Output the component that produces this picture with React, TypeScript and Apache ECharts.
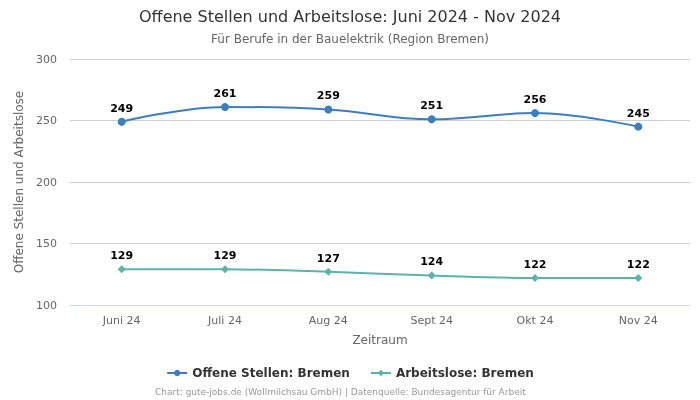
import React, { useEffect, useRef } from "react";
import * as echarts from "echarts";

const categories = ["Juni 24", "Juli 24", "Aug 24", "Sept 24", "Okt 24", "Nov 24"];
const offeneStellen = [249, 261, 259, 251, 256, 245];
const arbeitslose = [129, 129, 127, 124, 122, 122];

const FONT = "DejaVu Sans";

export default function App() {
  const ref = useRef<HTMLDivElement>(null);
  useEffect(() => {
    const chart = echarts.init(ref.current!, null, { renderer: "svg" });
    chart.setOption({
      animation: false,
      textStyle: { fontFamily: FONT },
      title: {
        text: "Offene Stellen und Arbeitslose: Juni 2024 - Nov 2024",
        subtext: "Für Berufe in der Bauelektrik (Region Bremen)",
        left: "center",
        top: 3,
        itemGap: 9,
        textStyle: { fontFamily: FONT, fontSize: 16, fontWeight: "normal", color: "#333333" },
        subtextStyle: { fontFamily: FONT, fontSize: 12, color: "#666666" },
      },
      legend: {
        bottom: 16,
        left: "center",
        itemWidth: 20,
        itemHeight: 8,
        itemGap: 20,
        textStyle: { fontFamily: FONT, fontSize: 12, fontWeight: "bold", color: "#333333" },
        data: ["Offene Stellen: Bremen", "Arbeitslose: Bremen"],
      },
      graphic: [
        {
          type: "text",
          left: 155,
          top: 387,
          style: {
            text: "Chart: gute-jobs.de (Wollmilchsau GmbH) | Datenquelle: Bundesagentur für Arbeit",
            fontFamily: FONT,
            fontSize: 9,
            fill: "#999999",
          },
        },
      ],
      grid: { left: 70, right: 10, top: 59, bottom: 95 },
      xAxis: {
        type: "category",
        data: categories,
        boundaryGap: true,
        name: "Zeitraum",
        nameLocation: "middle",
        nameGap: 29,
        nameTextStyle: { fontFamily: FONT, fontSize: 12, color: "#666666" },
        axisLine: { lineStyle: { color: "#ccd6eb" } },
        axisTick: { show: false },
        axisLabel: { fontFamily: FONT, fontSize: 11, color: "#666666", margin: 10 },
      },
      yAxis: {
        type: "value",
        min: 100,
        max: 300,
        interval: 50,
        name: "Offene Stellen und Arbeitslose",
        nameLocation: "middle",
        nameGap: 33,
        nameTextStyle: { fontFamily: FONT, fontSize: 12, color: "#666666" },
        axisLabel: { fontFamily: FONT, fontSize: 11, color: "#666666", margin: 13 },
        splitLine: { lineStyle: { color: "#d0d0d0" } },
        axisLine: { show: false },
        axisTick: { show: false },
      },
      series: [
        {
          name: "Offene Stellen: Bremen",
          type: "line",
          data: offeneStellen,
          smooth: 0.4,
          symbol: "circle",
          symbolSize: 8,
          color: "#3a7fc1",
          lineStyle: { width: 2, color: "#3a7fc1" },
          itemStyle: { color: "#3a7fc1" },
          label: {
            show: true,
            position: "top",
            distance: 4,
            fontFamily: FONT,
            fontSize: 11,
            fontWeight: "bold",
            color: "#000000",
          },
        },
        {
          name: "Arbeitslose: Bremen",
          type: "line",
          data: arbeitslose,
          smooth: 0.4,
          symbol: "diamond",
          symbolSize: 8,
          color: "#5ab4ac",
          lineStyle: { width: 2, color: "#5ab4ac" },
          itemStyle: { color: "#5ab4ac" },
          label: {
            show: true,
            position: "top",
            distance: 4,
            fontFamily: FONT,
            fontSize: 11,
            fontWeight: "bold",
            color: "#000000",
          },
        },
      ],
    });
    return () => chart.dispose();
  }, []);
  return (
    <div
      ref={ref}
      style={{ position: "fixed", left: 0, top: 0, width: 700, height: 400 }}
    />
  );
}
